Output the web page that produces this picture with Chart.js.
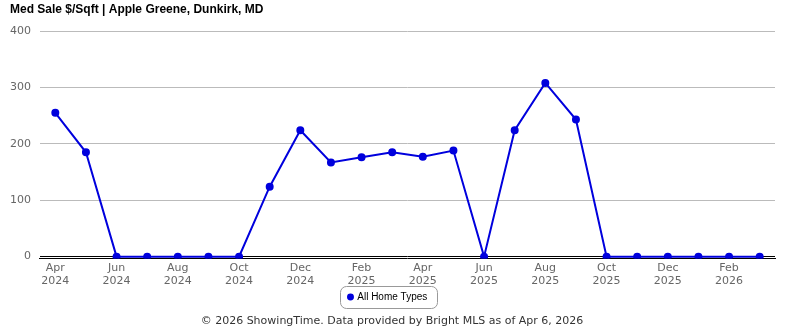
<!DOCTYPE html>
<html>
<head>
<meta charset="utf-8">
<script src="https://cdn.jsdelivr.net/npm/chart.js@4"></script>
<style>
  html, body { margin: 0; padding: 0; background: #fff; }
  #wrap { width: 785px; height: 330px; position: relative; }
</style>
</head>
<body>
<div id="wrap"><canvas id="myChart"></canvas></div>
<script>
const months = [
    ['Apr', '2024'], ['May', '2024'], ['Jun', '2024'], ['Jul', '2024'],
    ['Aug', '2024'], ['Sep', '2024'], ['Oct', '2024'], ['Nov', '2024'],
    ['Dec', '2024'], ['Jan', '2025'], ['Feb', '2025'], ['Mar', '2025'],
    ['Apr', '2025'], ['May', '2025'], ['Jun', '2025'], ['Jul', '2025'],
    ['Aug', '2025'], ['Sep', '2025'], ['Oct', '2025'], ['Nov', '2025'],
    ['Dec', '2025'], ['Jan', '2026'], ['Feb', '2026'], ['Mar', '2026']
];
const allHomeTypes = [
    255, 185, 0, 0, 0, 0, 0, 124, 224, 167, 176, 185,
    177, 188, 0, 224, 308, 243, 0, 0, 0, 0, 0, 0
];
const yTicks = [0, 100, 200, 300, 400];

const lineColor = '#0000dd';
const chartTitle = 'Med Sale $/Sqft | Apple Greene, Dunkirk, MD';
const footerText = '\u00a9 2026 ShowingTime. Data provided by Bright MLS as of Apr 6, 2026';

// title at top-left, rounded box around the legend item, footer text
const extras = {
    id: 'extras',
    afterDraw(chart) {
        const ctx = chart.ctx;
        ctx.save();
        ctx.font = 'bold 12px "Liberation Sans"';
        ctx.fillStyle = '#000';
        ctx.textAlign = 'left';
        ctx.textBaseline = 'middle';
        ctx.fillText(chartTitle, 10, 10);
        ctx.restore();

        const box = chart.legend.legendHitBoxes[0];
        if (box) {
            const x = box.left - 9, y = box.top - 6;
            const w = box.width + 18, h = box.height + 12;
            ctx.save();
            ctx.strokeStyle = '#999';
            ctx.lineWidth = 1;
            ctx.beginPath();
            ctx.roundRect(Math.round(x) + 0.5, Math.round(y) + 0.5, Math.round(w), Math.round(h), 6);
            ctx.stroke();
            ctx.restore();
        }
        ctx.save();
        ctx.font = '11px "DejaVu Sans"';
        ctx.fillStyle = '#333';
        ctx.textAlign = 'center';
        ctx.textBaseline = 'middle';
        ctx.fillText(footerText, 392, 321);
        ctx.restore();
    }
};

const data = {
    labels: months,
    datasets: [{
        label: 'All Home Types',
        data: allHomeTypes,
        borderColor: lineColor,
        backgroundColor: lineColor,
        borderWidth: 2,
        pointRadius: 3,
        pointHoverRadius: 4,
        tension: 0
    }]
};

const config = {
    type: 'line',
    data: data,
    options: {
        responsive: true,
        maintainAspectRatio: false,
        animation: false,
        layout: {
            padding: { left: 1, right: 10, top: 31, bottom: 18 }
        },
        plugins: {
            legend: {
                position: 'bottom',
                labels: {
                    usePointStyle: true,
                    pointStyle: 'circle',
                    boxWidth: 3.5,
                    boxHeight: 3.5,
                    color: '#000',
                    font: { family: 'Liberation Sans', size: 10 },
                    padding: 1
                }
            },
            tooltip: { enabled: false }
        },
        scales: {
            x: {
                offset: true,
                grid: { display: false, drawTicks: false },
                border: { display: true, color: '#000', width: 1 },
                ticks: {
                    autoSkip: false,
                    maxRotation: 0,
                    color: '#666',
                    font: { family: 'DejaVu Sans', size: 11 },
                    padding: 3,
                    callback: function(value, index) {
                        return index % 2 === 0 ? months[index] : '';
                    }
                }
            },
            y: {
                min: -3.5,
                max: 400,
                afterBuildTicks: function(axis) {
                    axis.ticks = yTicks.map(v => ({ value: v }));
                },
                grid: {
                    drawTicks: false,
                    color: ctx => ctx.tick && ctx.tick.value === 0 ? '#000' : '#bbb'
                },
                border: { display: false },
                ticks: {
                    color: '#666',
                    font: { family: 'DejaVu Sans', size: 11 },
                    padding: 9
                }
            }
        }
    },
    plugins: [extras]
};

var myChart = new Chart(
    document.getElementById('myChart'),
    config
);
</script>
</body>
</html>
